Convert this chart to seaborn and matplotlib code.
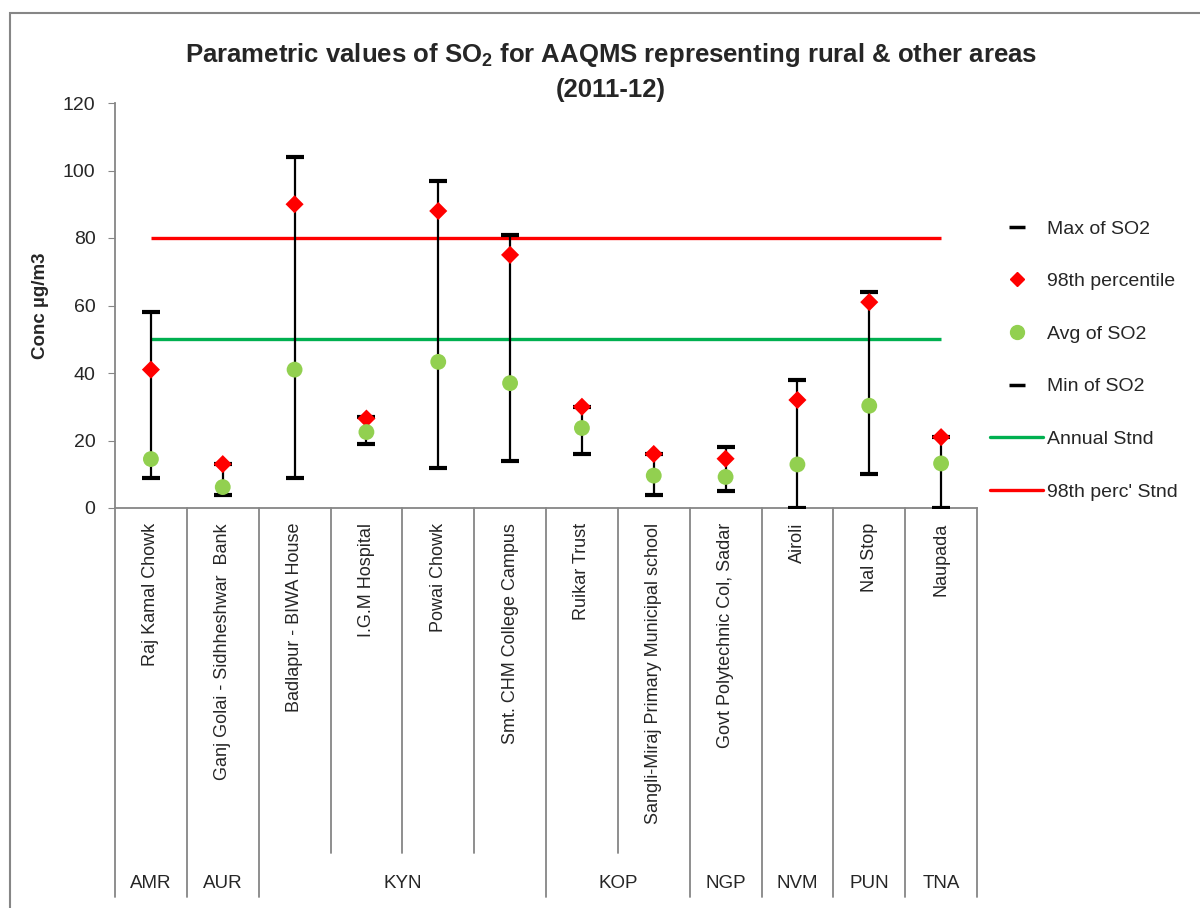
import numpy as np
import pandas as pd
import seaborn as sns
import matplotlib.pyplot as plt
from matplotlib.lines import Line2D
from matplotlib.patches import Rectangle


stations = ['Raj Kamal Chowk', 'Ganj Golai - Sidhheshwar  Bank', 'Badlapur - BIWA House',
            'I.G.M Hospital', 'Powai Chowk', 'Smt. CHM College Campus', 'Ruikar Trust',
            'Sangli-Miraj Primary Municipal school', 'Govt Polytechnic Col, Sadar',
            'Airoli', 'Nal Stop', 'Naupada']
regions = ['AMR', 'AUR', 'KYN', 'KYN', 'KYN', 'KYN', 'KOP', 'KOP', 'NGP', 'NVM', 'PUN', 'TNA']

max_so2 = [58, 13, 104, 27, 97, 81, 30, 16, 18, 38, 64, 21]
perc98 = [41, 13, 90, 26.5, 88, 75, 30, 16, 14.6, 32, 61, 21]
avg_so2 = [14.5, 6.2, 41, 22.5, 43.3, 37, 23.7, 9.6, 9.2, 12.9, 30.3, 13.2]
min_so2 = [9, 4, 9, 19, 12, 14, 16, 4, 5, 0, 10, 0]

annual_stnd = 50
perc_stnd = 80

df = pd.DataFrame({'station': stations, 'region': regions, 'max': max_so2,
                   'p98': perc98, 'avg': avg_so2, 'min': min_so2})

sns.set_style('white')
plt.rcParams['font.family'] = ['Liberation Sans Narrow', 'Liberation Sans', 'DejaVu Sans']
plt.rcParams['mathtext.fontset'] = 'custom'
plt.rcParams['mathtext.rm'] = 'Liberation Sans'
plt.rcParams['mathtext.bf'] = 'Liberation Sans:bold'

fig = plt.figure(figsize=(12, 9.08), dpi=100)
ax = fig.add_axes([115 / 1200, 1 - 508 / 908, 862 / 1200, 405 / 908])

gray = '#868686'
x = np.arange(len(stations))

# high-low lines + max/min dashes
ax.vlines(x, df['min'], df['max'], color='black', lw=1.6, zorder=2)
sns.scatterplot(x=x, y=df['max'], marker='_', s=160, color='black', linewidth=3, ax=ax, zorder=3)
sns.scatterplot(x=x, y=df['min'], marker='_', s=160, color='black', linewidth=3, ax=ax, zorder=3)

# standards
ax.hlines(annual_stnd, x[0], x[-1], color='#00B050', lw=2.4, zorder=1)
ax.hlines(perc_stnd, x[0], x[-1], color='#FF0000', lw=2.4, zorder=1)

sns.scatterplot(x=x, y=df['p98'], marker='D', s=85, color='#FF0000', edgecolor='none', ax=ax, zorder=4)
sns.scatterplot(x=x, y=df['avg'], marker='o', s=130, color='#92D050', edgecolor='none', ax=ax, zorder=4)

ax.set_xlim(-0.5, len(stations) - 0.5)
ax.set_ylim(0, 120)
ax.set_yticks(range(0, 121, 20))
ax.tick_params(axis='y', labelsize=14, length=5, color=gray, direction='out', left=True, pad=9)
ax.set_xticks([])
ax.set_xlabel('')
ax.set_ylabel('Conc µg/m3', fontsize=13.5, fontweight='bold', labelpad=10)
for side in ['top', 'right']:
    ax.spines[side].set_visible(False)
for side in ['left', 'bottom']:
    ax.spines[side].set_color(gray)
    ax.spines[side].set_linewidth(1.3)

# station labels
trans = ax.get_xaxis_transform()
for i, name in enumerate(stations):
    ax.text(i, -0.037, name, rotation=90, ha='center', va='top', fontsize=13, transform=trans)

# separators and region labels
edges = [i for i in range(1, len(regions)) if regions[i] != regions[i - 1]]
for b in range(len(stations) + 1):
    xb = b - 0.5
    bottom = -0.96 if (b == 0 or b == len(stations) or b in edges) else -0.853
    ax.plot([xb, xb], [0, bottom], color=gray, lw=1.3, transform=trans, clip_on=False)

start = 0
for i in range(1, len(regions) + 1):
    if i == len(regions) or regions[i] != regions[start]:
        ax.text((start + i - 1) / 2, -0.927, regions[start], ha='center', va='center',
                fontsize=13.5, transform=trans)
        start = i

fig.text(0.509, 1 - 41 / 908,
         'Parametric values of SO$_\\mathbf{2}$ for AAQMS representing rural & other areas\n(2011-12)',
         ha='center', va='top', fontsize=18.5, fontweight='bold', linespacing=1.5)

handles = [
    Line2D([], [], marker='_', color='black', ls='none', markersize=11, mew=2.5),
    Line2D([], [], marker='D', color='#FF0000', ls='none', markersize=7),
    Line2D([], [], marker='o', color='#92D050', ls='none', markersize=10),
    Line2D([], [], marker='_', color='black', ls='none', markersize=11, mew=2.5),
    Line2D([], [], color='#00B050', lw=2.4),
    Line2D([], [], color='#FF0000', lw=2.4),
]
labels = ['Max of SO2', '98th percentile', 'Avg of SO2', 'Min of SO2', 'Annual Stnd', "98th perc' Stnd"]
fig.legend(handles, labels, loc='upper left', bbox_to_anchor=(990 / 1200, 1 - 220 / 908),
           frameon=False, fontsize=14, handlelength=2.75, handletextpad=0.2,
           labelspacing=1.8, borderpad=0, borderaxespad=0)

fig.add_artist(Rectangle((10 / 1200, -0.1), 1.2, 1 - 13 / 908 + 0.1, transform=fig.transFigure,
                         fill=False, edgecolor=gray, lw=1.5))

fig.savefig('out.png', dpi=100)
